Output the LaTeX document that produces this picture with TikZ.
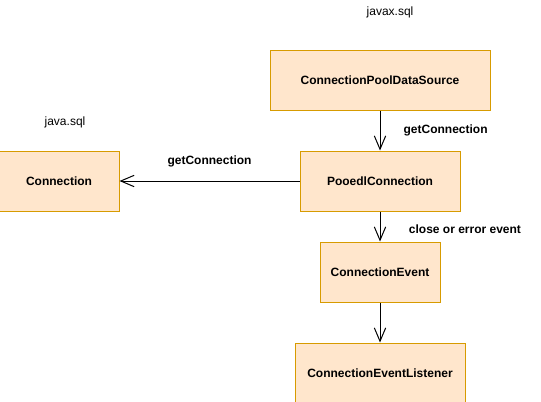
\documentclass[tikz,border=0pt]{standalone}
\usepackage{fontspec}
\setmainfont{Liberation Sans}
\usepackage{tikz}
\usetikzlibrary{arrows.meta, positioning}
\definecolor{boxfill}{HTML}{FFE6CC}
\definecolor{boxdraw}{HTML}{D79B00}

\begin{document}
\begin{tikzpicture}[
    x=0.75pt, y=-0.75pt,
    every node/.style={font=\fontsize{9}{11}\selectfont},
    cls/.style={rectangle, draw=boxdraw, line width=0.75pt, fill=boxfill, align=center, minimum height=45pt, font=\fontsize{9}{11}\selectfont\bfseries},
    arrow/.style={-{Straight Barb[length=10pt, width=8.5pt]}, line width=0.75pt},
    lbl/.style={font=\fontsize{9}{11}\selectfont\bfseries}
]
\useasboundingbox (0,0) rectangle (541,401);

% --- javax.sql side ---
\node[cls, minimum width=165pt] (pool) at (380,80) {ConnectionPoolDataSource};
\node[cls, minimum width=120pt, below=30pt of pool] (pooled) {PooedlConnection};
\node[cls, minimum width=90pt, below=22.5pt of pooled] (event) {ConnectionEvent};
\node[cls, minimum width=127.5pt, below=30pt of event] (listener) {ConnectionEventListener};

% --- java.sql side ---
\node[cls, minimum width=90pt, left=135pt of pooled] (conn) {Connection};

\draw[arrow] (pool) -- node[lbl, midway, right=14pt] {getConnection} (pooled);
\draw[arrow] (pooled) -- (conn) node[lbl, midway, above=7pt] {getConnection};
\draw[arrow] (pooled) -- node[lbl, pos=0.6, right=18pt] {close or error event} (event);
\draw[arrow] (event) -- (listener);

% --- Package labels ---
\node (javax) at (390,12) {javax.sql};
\node (javasql) at (65,122) {java.sql};
\end{tikzpicture}
\end{document}
